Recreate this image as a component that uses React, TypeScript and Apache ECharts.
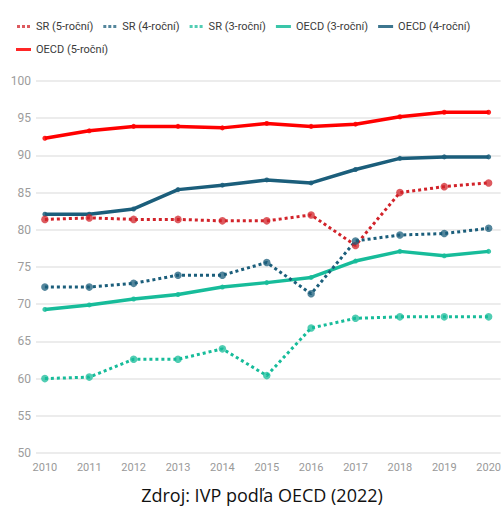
import React, { useEffect, useRef } from "react";
import * as echarts from "echarts";

const years = [2010, 2011, 2012, 2013, 2014, 2015, 2016, 2017, 2018, 2019, 2020];
const yTicks = [50, 55, 60, 65, 70, 75, 80, 85, 90, 95, 100];

const sr5 = [81.4, 81.6, 81.4, 81.4, 81.2, 81.2, 82.0, 77.9, 85.0, 85.8, 86.3];
const sr4 = [72.3, 72.3, 72.8, 73.9, 73.9, 75.6, 71.4, 78.5, 79.3, 79.5, 80.2];
const sr3 = [60.0, 60.2, 62.6, 62.6, 64.0, 60.4, 66.8, 68.1, 68.3, 68.3, 68.3];
const oecd3 = [69.3, 69.9, 70.7, 71.3, 72.3, 72.9, 73.6, 75.8, 77.1, 76.5, 77.1];
const oecd4 = [82.1, 82.1, 82.8, 85.4, 86.0, 86.7, 86.3, 88.1, 89.6, 89.8, 89.8];
const oecd5 = [92.3, 93.3, 93.9, 93.9, 93.7, 94.3, 93.9, 94.2, 95.2, 95.8, 95.8];

const seriesNames = ["SR (5-roční)", "SR (4-roční)", "SR (3-roční)", "OECD (3-roční)", "OECD (4-roční)", "OECD (5-roční)"];
const sourceText = "Zdroj: IVP podľa OECD (2022)";

const RED_DOT = "#d2232a";
const BLUE = "#1b5e7b";
const TEAL = "#17bc9a";
const RED = "#ff0000";

const DOT_ICON = "path://M0,0h3v3h-3z M5,0h3v3h-3z M10,0h3v3h-3z";
const LINE_ICON = "path://M0,0h15v3h-15z";

export default function App() {
  const ref = useRef<HTMLDivElement>(null);
  useEffect(() => {
    if (!ref.current) return;
    const chart = echarts.init(ref.current, null, { renderer: "svg" });
    const pair = (arr: number[]) => years.map((y, i) => [y, arr[i]]);
    const dotted = (name: string, data: number[], color: string) => ({
      name,
      type: "line",
      data: pair(data),
      color,
      symbol: "circle",
      symbolSize: 7.5,
      itemStyle: { color, opacity: 0.75 },
      lineStyle: { color, width: 3, type: [3, 3] },
      z: 3,
    });
    const solid = (name: string, data: number[], color: string) => ({
      name,
      type: "line",
      data: pair(data),
      color,
      symbol: "circle",
      symbolSize: 5,
      itemStyle: { color, opacity: 0.85 },
      lineStyle: { color, width: 3.5 },
      z: 2,
    });
    chart.setOption({
      animation: false,
      legend: {
        left: 11,
        right: 4,
        top: 15,
        itemWidth: 15,
        itemHeight: 3,
        itemGap: 10,
        textStyle: { fontFamily: "Roboto", fontSize: 11, color: "#3a3a3a", lineHeight: 13 },
        data: seriesNames.map((n, i) => ({ name: n, icon: i < 3 ? DOT_ICON : LINE_ICON })),
      },
      grid: { left: 36, right: 2, top: 81, bottom: 56 },
      xAxis: {
        type: "value",
        min: 2009.8,
        max: 2020.27,
        axisLine: { show: false },
        axisTick: { show: false },
        splitLine: { show: false },
        axisLabel: {
          customValues: years,
          formatter: (v: number) => String(v),
          fontFamily: "Roboto",
          fontSize: 11,
          color: "#999",
          margin: 9,
        },
      },
      yAxis: {
        type: "value",
        min: yTicks[0],
        max: yTicks[yTicks.length - 1],
        interval: 5,
        axisLine: { show: false },
        axisTick: { show: false },
        splitLine: { lineStyle: { color: "#e6e6e6", width: 1.5 } },
        axisLabel: { fontFamily: "Roboto", fontSize: 12, color: "#9c9c9c", margin: 5 },
      },
      graphic: [
        {
          type: "text",
          x: 262,
          y: 495,
          style: {
            text: sourceText,
            fontFamily: "Open Sans",
            fontSize: 18,
            fill: "#111",
            align: "center",
            verticalAlign: "middle",
          },
        },
      ],
      series: [
        dotted(seriesNames[0], sr5, RED_DOT),
        dotted(seriesNames[1], sr4, BLUE),
        dotted(seriesNames[2], sr3, TEAL),
        solid(seriesNames[3], oecd3, TEAL),
        solid(seriesNames[4], oecd4, BLUE),
        solid(seriesNames[5], oecd5, RED),
      ],
    });
    return () => chart.dispose();
  }, []);
  return (
    <div
      ref={ref}
      style={{ position: "fixed", left: 0, top: 0, width: 504, height: 509, background: "#fff" }}
    />
  );
}
